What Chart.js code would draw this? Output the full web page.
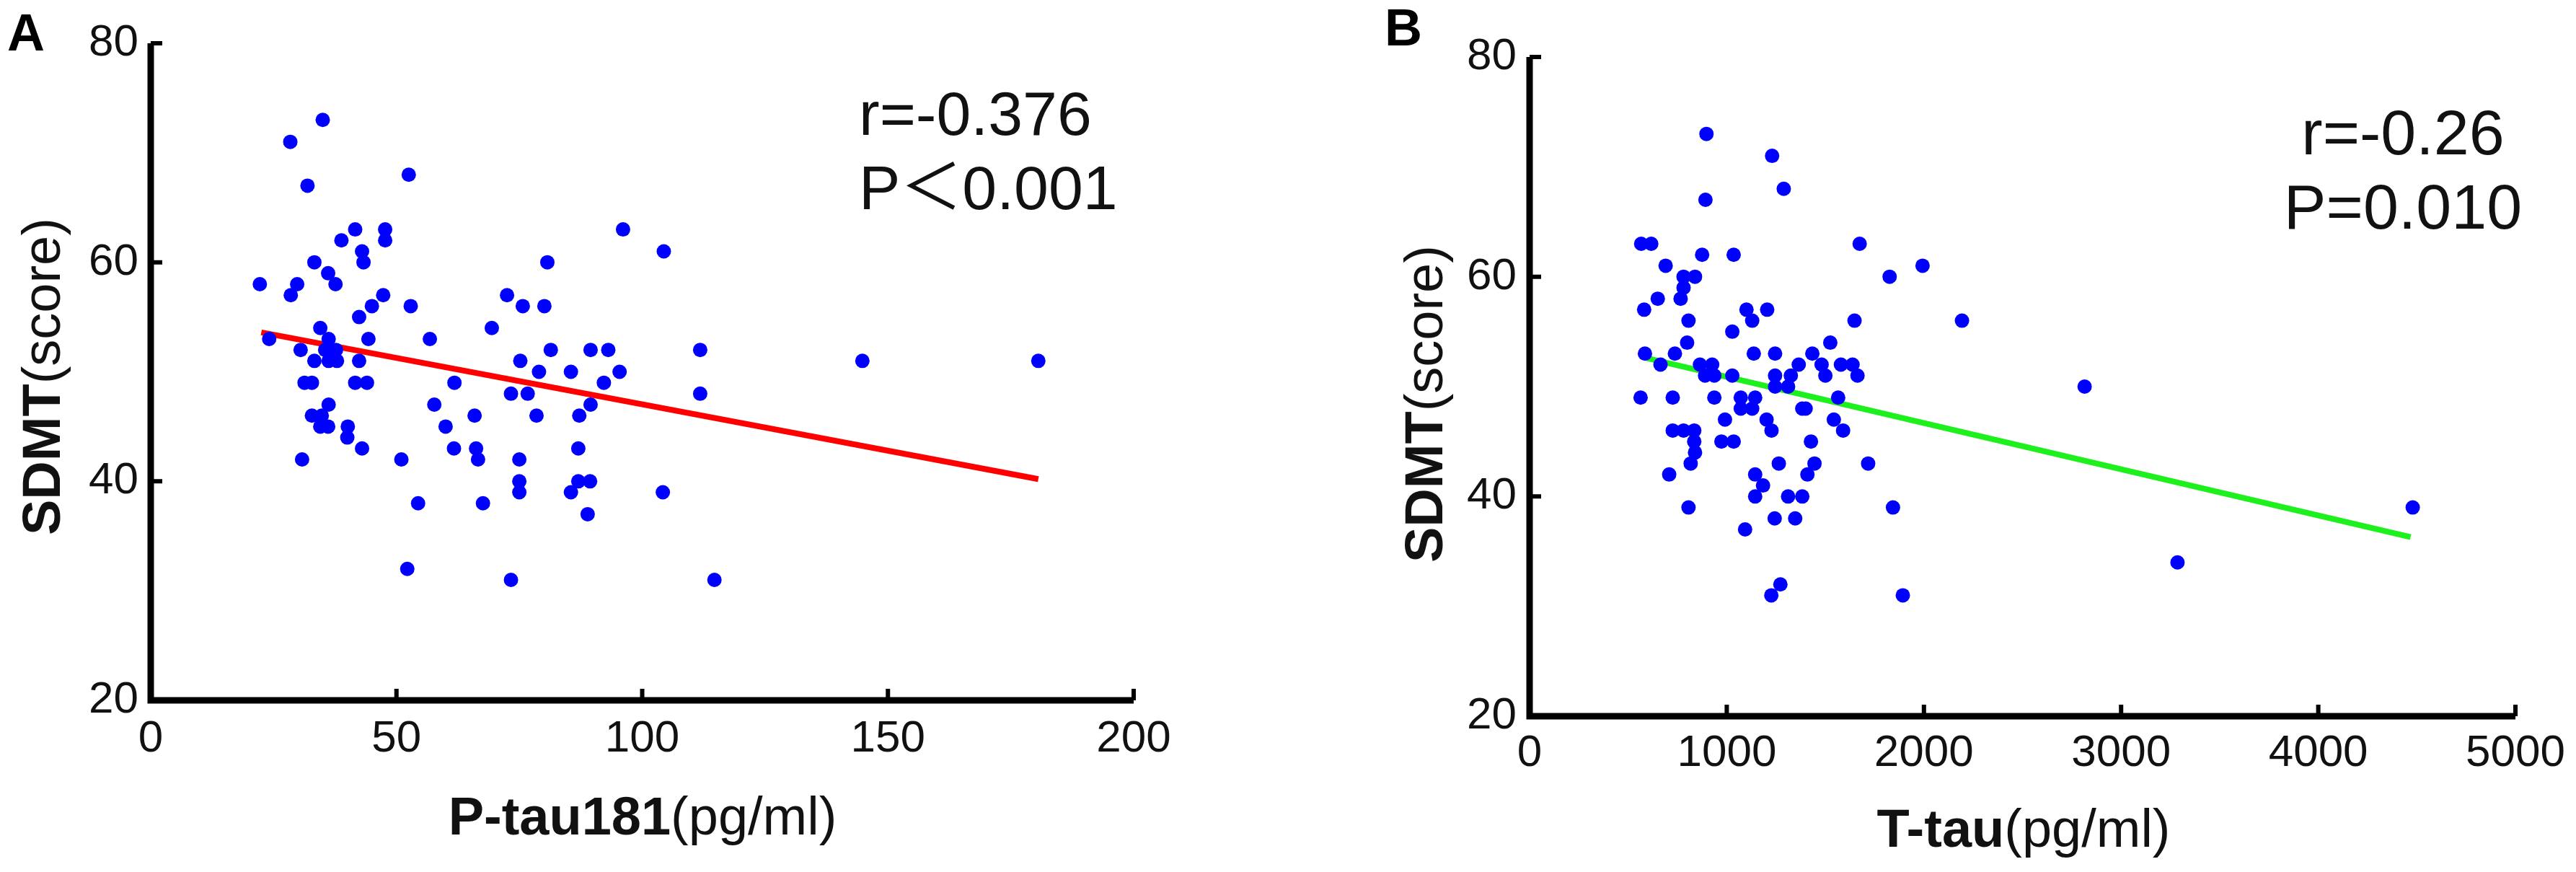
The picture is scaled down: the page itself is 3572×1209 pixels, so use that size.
<!DOCTYPE html>
<html>
<head>
<meta charset="utf-8">
<title>SDMT vs P-tau181 / T-tau</title>
<script src="https://cdn.jsdelivr.net/npm/chart.js@4.4.1/dist/chart.umd.min.js"></script>
<style>
  html, body { margin: 0; padding: 0; background: #fff; }
  #page {
    position: relative; width: 3572px; height: 1209px; overflow: hidden;
    font-family: 'Liberation Sans', Arial, 'Noto Sans CJK SC', sans-serif; color: #111;
  }
  #page canvas { position: absolute; top: 0; }
  .lbl { position: absolute; white-space: nowrap; line-height: 1; }
  .panel { font-weight: bold; font-size: 72px; color: #000; }
  .ytitle { font-size: 74px; transform: translate(-50%, -50%) rotate(-90deg); }
  .xtitle { font-size: 74px; transform: translateX(-50%); }
  .stat { position: absolute; white-space: nowrap; line-height: 103px; }
</style>
</head>
<body>
<div id="page">
  <canvas id="chartA" width="1786" height="1209" style="left:0"></canvas>
  <canvas id="chartB" width="1786" height="1209" style="left:1786px"></canvas>

  <div class="lbl panel" style="left:10px; top:9px">A</div>
  <div class="lbl panel" style="left:1920px; top:2px">B</div>

  <div class="lbl ytitle" style="left:58px; top:522px"><b>SDMT</b>(score)</div>
  <div class="lbl ytitle" style="left:1975px; top:560px"><b>SDMT</b>(score)</div>

  <div class="lbl xtitle" style="left:891px; top:1095px"><b>P-tau181</b>(pg/ml)</div>
  <div class="lbl xtitle" style="left:2806px; top:1112px"><b>T-tau</b>(pg/ml)</div>

  <div class="stat" style="left:1191px; top:106px; font-size:86px; text-align:left">r=-0.376<br>P＜0.001</div>
  <div class="stat" style="left:3332px; top:132px; font-size:88px; text-align:center; transform:translateX(-50%)">r=-0.26<br>P=0.010</div>
</div>

<script>
// ── Panel A : P-tau181 vs SDMT ──
var aX = [31.9, 41.6, 47.7, 47.7, 38.8, 43.0, 43.3, 33.3, 36.1, 37.6, 22.2, 29.8, 28.5, 47.3, 45.0, 52.9,
          42.4, 34.5, 24.1, 36.2, 44.3, 56.8, 30.5, 35.5, 37.7, 33.3, 36.2, 37.9, 42.4, 31.3, 32.8, 41.6,
          44.0, 61.8, 36.2, 57.7, 32.8, 34.8, 34.5, 36.1, 40.1, 40.0, 60.0, 43.0, 61.7, 30.8, 51.0,
          28.4, 35.0, 52.5, 54.4, 52.2, 65.9, 66.2, 66.6, 67.6, 73.3, 114.7, 69.4, 72.5, 75.7, 80.1,
          80.7, 75.2, 73.3, 76.7, 78.5, 79.0, 81.4, 85.5, 87.2, 87.0, 75.0, 75.0, 75.0, 85.5, 87.0,
          89.4, 88.9, 89.5, 93.1, 89.5, 92.2, 95.4, 96.1, 104.4, 104.2, 111.8, 111.8, 144.8, 180.6];
var aY = [67, 63, 63, 62, 62, 61, 60, 60, 59, 58, 58, 58, 57, 57, 56, 56,
          55, 54, 53, 53, 53, 53, 52, 52, 52, 51, 51, 51, 51, 49, 49, 49,
          49, 49, 47, 47, 46, 46, 45, 45, 45, 44, 45, 43, 43, 42, 42,
          71, 73, 68, 38, 32, 46, 43, 42, 38, 31, 31, 54, 57, 56, 56,
          60, 51, 48, 48, 46, 50, 52, 50, 46, 43, 42, 40, 39, 39, 40,
          40, 37, 52, 52, 47, 49, 50, 63, 61, 39, 52, 48, 51, 51];
var aFitX = [22.5, 180.6];
var aFitY = [53.6, 40.2];
var aXTicks = [0, 50, 100, 150, 200];

// ── Panel B : T-tau vs SDMT ──
var bX = [566, 617, 875, 1035, 690, 781, 839, 781, 766, 650, 581, 1100, 1205, 1129, 1674, 1648,
          806, 1028, 799, 1525, 585, 737, 1137, 1245, 1434, 664, 864, 926, 890, 937, 1028, 1365,
          1481, 1579, 1638, 1245, 1325, 1500, 1663, 1245, 1311, 563, 726, 937, 1071, 1144, 1565,
          1071, 1129, 1383, 1400, 991, 1202, 1543, 1227, 1590, 726, 781, 835, 835, 973, 1035, 1427,
          839, 817, 1264, 1445, 708, 1144, 1409, 1184, 1144, 1311, 1383, 806, 1717,
          897, 1230, 1289, 892, 1826, 1993, 2193, 2815, 1093, 1243, 1347, 1226, 1272, 1893, 1843,
          3286, 4479];
var bY = [63, 63, 62, 62, 61, 60, 60, 59, 58, 58, 57, 57, 57, 56, 63, 56,
          56, 55, 54, 54, 53, 53, 53, 53, 53, 52, 52, 52, 51, 51, 51, 52,
          52, 52, 52, 51, 51, 51, 51, 50, 50, 49, 49, 49, 49, 49, 49,
          48, 48, 48, 48, 47, 47, 47, 46, 46, 46, 46, 46, 45, 45, 45, 45,
          44, 43, 43, 43, 42, 42, 42, 41, 40, 40, 40, 39, 43,
          73, 71, 68, 67, 60, 61, 56, 50, 37, 38, 38, 31, 32, 31, 39,
          34, 39];
var bFitX = [592, 4468];
var bFitY = [52.6, 36.3];
var bXTicks = [0, 1000, 2000, 3000, 4000, 5000];

var yTicks = [20, 40, 60, 80];

var FONT = "'Liberation Sans', Arial, sans-serif";
var DOT = '#0000ff';

// axes drawn as one L path, ticks pointing inwards
var inwardAxes = {
  id: 'inwardAxes',
  afterDraw: function(chart, args, opts) {
    var ctx = chart.ctx, a = chart.chartArea;
    var sx = chart.scales.x, sy = chart.scales.y;
    ctx.save();
    ctx.strokeStyle = '#000';
    ctx.lineJoin = 'miter';
    ctx.lineCap = 'butt';
    ctx.lineWidth = opts.axisWidth;
    ctx.beginPath();
    ctx.moveTo(a.left, a.top);
    ctx.lineTo(a.left, a.bottom);
    ctx.lineTo(a.right, a.bottom);
    ctx.stroke();
    ctx.lineWidth = opts.tickWidth;
    ctx.beginPath();
    sx.ticks.forEach(function(t) {
      if (t.value === sx.min) return;
      var px = sx.getPixelForValue(t.value);
      ctx.moveTo(px, a.bottom);
      ctx.lineTo(px, a.bottom - opts.tickLen);
    });
    sy.ticks.forEach(function(t) {
      if (t.value === sy.min) return;
      var py = sy.getPixelForValue(t.value);
      ctx.moveTo(a.left, py);
      ctx.lineTo(a.left + opts.tickLen, py);
    });
    ctx.stroke();
    ctx.restore();
  }
};

function toPoints(xs, ys) {
  return xs.map(function(x, i) { return { x: x, y: ys[i] }; });
}

function plainLabel(v) { return String(v); }

function makePanel(id, xs, ys, fitX, fitY, fitColor, xTicks, box, pad) {
  var W = 1786, H = 1209;
  return new Chart(document.getElementById(id), {
    type: 'scatter',
    data: {
      datasets: [{
        data: toPoints(xs, ys),
        backgroundColor: DOT,
        borderWidth: 0,
        pointRadius: 10,
        order: 0
      }, {
        type: 'line',
        data: toPoints(fitX, fitY),
        borderColor: fitColor,
        borderWidth: 8,
        pointRadius: 0,
        fill: false,
        order: 1
      }]
    },
    options: {
      responsive: false,
      devicePixelRatio: 1,
      animation: false,
      events: [],
      layout: { padding: { left: 0, top: box.top, right: W - box.right, bottom: 0 } },
      plugins: {
        legend: { display: false },
        tooltip: { enabled: false },
        inwardAxes: { axisWidth: 9, tickWidth: 6, tickLen: 16 }
      },
      scales: {
        x: {
          type: 'linear',
          min: xTicks[0],
          max: xTicks[xTicks.length - 1],
          afterBuildTicks: function(s) { s.ticks = xTicks.map(function(v) { return { value: v }; }); },
          afterFit: function(s) { s.height = H - box.bottom; },
          ticks: { font: { family: FONT, size: 62 }, color: '#111', padding: pad.x, maxRotation: 0, autoSkip: false, callback: plainLabel },
          grid: { display: false, drawTicks: false },
          border: { display: false }
        },
        y: {
          type: 'linear',
          min: 20,
          max: 80,
          afterBuildTicks: function(s) { s.ticks = yTicks.map(function(v) { return { value: v }; }); },
          afterFit: function(s) { s.width = box.left; },
          ticks: { font: { family: FONT, size: 62 }, color: '#111', padding: pad.y, autoSkip: false, callback: plainLabel },
          grid: { display: false, drawTicks: false },
          border: { display: false }
        }
      }
    },
    plugins: [inwardAxes]
  });
}

makePanel('chartA', aX, aY, aFitX, aFitY, '#ff0000', aXTicks,
  { left: 209, top: 60, right: 1572, bottom: 971 }, { x: 17, y: 17 });
makePanel('chartB', bX, bY, bFitX, bFitY, '#1ef01e', bXTicks,
  { left: 335, top: 79, right: 1706, bottom: 993 }, { x: 15, y: 18 });
</script>
</body>
</html>
